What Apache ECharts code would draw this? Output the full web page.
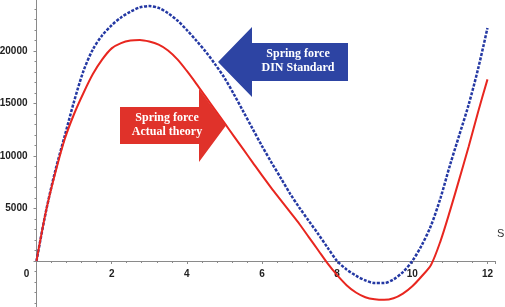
<!DOCTYPE html>
<html>
<head>
<meta charset="utf-8" />
<title>Spring force</title>
<style>
  html, body { margin: 0; padding: 0; background: #fff; }
  #main { width: 505px; height: 307px; }
</style>
</head>
<body>
<div id="main"></div>
<script src="https://cdn.jsdelivr.net/npm/echarts@6/dist/echarts.min.js"></script>
<script>
// S positions (x axis), every 0.25
const sValues = [0, 0.25, 0.5, 0.75, 1, 1.25, 1.5, 1.75, 2, 2.25, 2.5, 2.75, 3, 3.25, 3.5, 3.75,
  4, 4.25, 4.5, 4.75, 5, 5.25, 5.5, 5.75, 6, 6.25, 6.5, 6.75, 7, 7.25, 7.5, 7.75,
  8, 8.25, 8.5, 8.75, 9, 9.25, 9.5, 9.75, 10, 10.25, 10.5, 10.75, 11, 11.25, 11.5, 11.75, 12];
// spring force, actual theory (red, solid)
const actualTheory = [0, 4700, 8400, 11600, 14000, 16000, 17800, 19200, 20250, 20750, 21000, 21050,
  20900, 20600, 20050, 19200, 18100, 16900, 15650, 14400, 13150, 11900, 10650, 9400,
  8150, 6950, 5800, 4650, 3500, 2250, 1000, -250, -1350, -2300, -3000, -3450,
  -3650, -3700, -3550, -3100, -2400, -1450, -350, 1900, 4750, 7800, 10900, 14200, 17300];
// spring force, DIN standard (blue, dashed)
const dinStandard = [0, 4700, 8600, 11900, 15200, 18100, 20150, 21500, 22450, 23200, 23750, 24150,
  24280, 24100, 23600, 22900, 22000, 21000, 19950, 18750, 17450, 15900, 14250, 12600,
  10950, 9400, 7900, 6400, 5050, 3800, 2550, 1250, 0, -800, -1400, -1850,
  -2100, -2100, -1750, -1050, 0, 1500, 3400, 6000, 9100, 12000, 14900, 18300, 22200];
const yLabels = [5000, 10000, 15000, 20000];
const xLabels = [0, 2, 4, 6, 8, 10, 12];

const chart = echarts.init(document.getElementById('main'));

const axisGray = '#8a8a8a';
const labelFont = { fontFamily: 'Liberation Sans', fontSize: 10, fontWeight: 'bold', color: '#222' };

function pairs(ys) {
  return sValues.map((s, i) => [s, ys[i]]);
}

// grid runs from -5000 to 25000; the x axis is lifted to the zero line with offset
chart.setOption({
  animation: false,
  grid: { left: 36.5, right: 10, top: -1.5, bottom: -6.5, containLabel: false, outerBoundsMode: 'none' },
  xAxis: {
    type: 'value', min: 0, max: 12.2, interval: 2, offset: -52.5,
    name: 'S', nameLocation: 'end', nameGap: 2,
    nameTextStyle: { fontFamily: 'Liberation Sans', fontSize: 11, color: '#333',
      align: 'left', verticalAlign: 'bottom', padding: [0, 0, 22, 0] },
    axisLine: { onZero: false, lineStyle: { color: axisGray, width: 1 } },
    axisTick: { show: true, length: 3, lineStyle: { color: axisGray } },
    minorTick: { show: true, splitNumber: 5, length: 2, lineStyle: { color: axisGray } },
    splitLine: { show: false },
    axisLabel: Object.assign({}, labelFont, {
      margin: 8,
      formatter: v => {
        if (!xLabels.includes(v)) return '';
        return v === 0 ? '{z|0}' : String(v);
      },
      rich: { z: Object.assign({}, labelFont, { padding: [0, 20, 0, 0] }) }
    })
  },
  yAxis: {
    type: 'value', min: -5000, max: 25000, interval: 5000,
    axisLine: { show: true, lineStyle: { color: axisGray, width: 1 } },
    axisTick: { show: true, length: 3, lineStyle: { color: axisGray } },
    minorTick: { show: true, splitNumber: 5, length: 2, lineStyle: { color: axisGray } },
    splitLine: { show: false },
    axisLabel: Object.assign({}, labelFont, {
      margin: 9,
      formatter: v => yLabels.includes(v) ? String(v) : ''
    })
  },
  series: [
    {
      name: 'DIN Standard', type: 'line', data: pairs(dinStandard),
      smooth: 0.3, showSymbol: false,
      lineStyle: { color: '#2438a3', width: 2.5, type: [3, 1.5] }
    },
    {
      name: 'Actual theory', type: 'line', data: pairs(actualTheory),
      smooth: 0.3, showSymbol: false,
      lineStyle: { color: '#e8261f', width: 2 }
    }
  ],
  graphic: [
    {
      type: 'polygon', z: 10,
      shape: { points: [[218, 62], [252, 27], [252, 43], [348, 43], [348, 81], [252, 81], [252, 97]] },
      style: { fill: '#2d44a3' }
    },
    {
      type: 'text', z: 11, x: 298, y: 47,
      style: { text: 'Spring force\nDIN Standard', fill: '#fff', align: 'center',
        font: 'bold 12px "Liberation Serif"', lineHeight: 14 }
    },
    {
      type: 'polygon', z: 10,
      shape: { points: [[120, 107], [199, 107], [199, 89], [226, 125.5], [199, 162], [199, 144], [120, 144]] },
      style: { fill: '#e0322a' }
    },
    {
      type: 'text', z: 11, x: 167, y: 111,
      style: { text: 'Spring force\nActual theory', fill: '#fff', align: 'center',
        font: 'bold 12px "Liberation Serif"', lineHeight: 14 }
    }
  ]
});
</script>
</body>
</html>
